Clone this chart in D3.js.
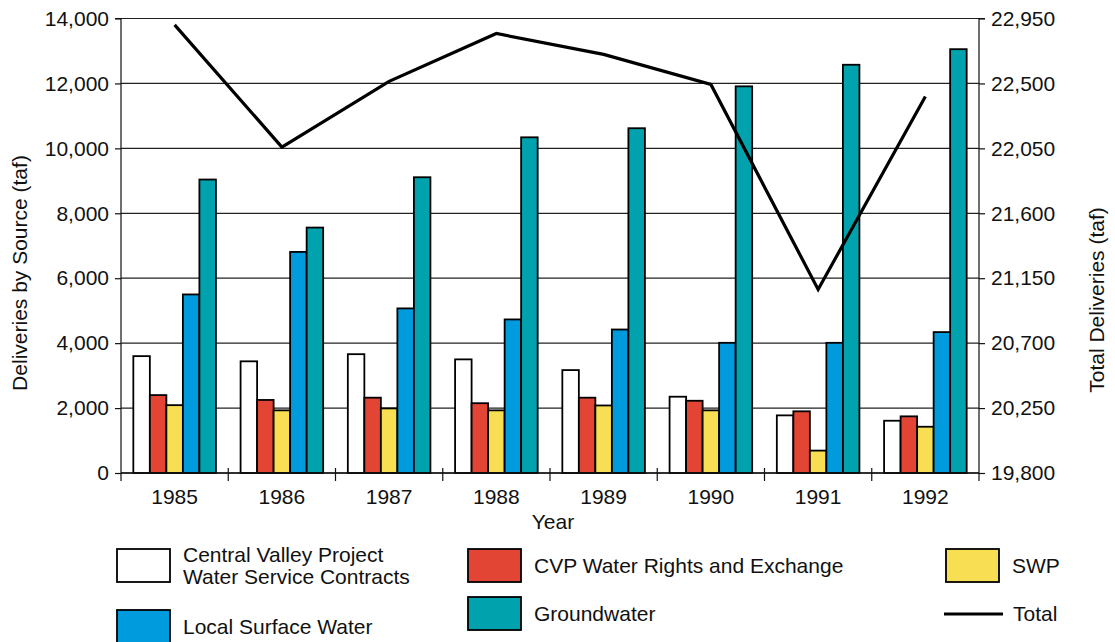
<!DOCTYPE html>
<html>
<head>
<meta charset="utf-8">
<script src="https://cdn.jsdelivr.net/npm/d3@7"></script>
<style>
  body { margin: 0; background: #fff; }
  svg { display: block; font-family: "Liberation Sans", Arial, sans-serif; }
  .tick-label { font-size: 21px; fill: #111; }
  .axis-title { font-size: 21px; fill: #111; }
  .legend-label { font-size: 21px; fill: #111; }
</style>
</head>
<body>
<svg id="chart" width="1115" height="642"></svg>
<script>
const years = ["1985", "1986", "1987", "1988", "1989", "1990", "1991", "1992"];
const seriesNames = ["Central Valley Project Water Service Contracts", "CVP Water Rights and Exchange", "SWP", "Local Surface Water", "Groundwater"];
const cvpContracts = [3600, 3440, 3660, 3500, 3170, 2350, 1775, 1610];
const cvpRights = [2400, 2250, 2320, 2150, 2320, 2225, 1900, 1745];
const swp = [2090, 1930, 1990, 1930, 2080, 1930, 690, 1425];
const localSurface = [5500, 6810, 5070, 4730, 4420, 4010, 4010, 4340];
const groundwater = [9040, 7560, 9110, 10340, 10620, 11910, 12575, 13055];
const totalDeliveries = [22906, 22059, 22514, 22846, 22701, 22493, 21072, 22410];
const leftTicks = [0, 2000, 4000, 6000, 8000, 10000, 12000, 14000];
const rightTicks = [19800, 20250, 20700, 21150, 21600, 22050, 22500, 22950];
const colors = ["#ffffff", "#e24534", "#f7de52", "#009bdd", "#00a3ad"];

const seriesValues = [cvpContracts, cvpRights, swp, localSurface, groundwater];

const svg = d3.select("#chart");
const plot = { left: 121, right: 979, top: 18.5, bottom: 473 };

const x0 = d3.scaleBand().domain(years).range([plot.left, plot.right]).padding(0);
const x1 = d3.scaleBand()
  .domain(d3.range(seriesNames.length))
  .range([x0.bandwidth() * 0.115, x0.bandwidth() * 0.885]);
const yL = d3.scaleLinear().domain([0, 14000]).range([plot.bottom, plot.top]);
const yR = d3.scaleLinear().domain([19800, 22950]).range([plot.bottom, plot.top]);

// gridlines
svg.append("g")
  .selectAll("line")
  .data(leftTicks)
  .join("line")
  .attr("x1", plot.left)
  .attr("x2", plot.right)
  .attr("y1", (d) => yL(d))
  .attr("y2", (d) => yL(d))
  .attr("stroke", "#222")
  .attr("stroke-width", 1.2);

// bars
svg.append("g")
  .selectAll("g")
  .data(years)
  .join("g")
  .attr("transform", (d) => `translate(${x0(d)},0)`)
  .selectAll("rect")
  .data((d, i) => seriesValues.map((vals, s) => ({ s, v: vals[i] })))
  .join("rect")
  .attr("x", (d) => x1(d.s))
  .attr("width", x1.bandwidth())
  .attr("y", (d) => yL(d.v))
  .attr("height", (d) => yL(0) - yL(d.v))
  .attr("fill", (d) => colors[d.s])
  .attr("stroke", "#000")
  .attr("stroke-width", 1.8);

// left axis
const axisL = svg.append("g")
  .attr("transform", `translate(${plot.left},0)`)
  .call(d3.axisLeft(yL).tickValues(leftTicks).tickFormat(d3.format(",")).tickSize(6).tickPadding(6));
axisL.select(".domain").attr("stroke", "#111").attr("stroke-width", 1.2).attr("d", `M-6,${plot.top}H0V${plot.bottom + 8}`);
axisL.selectAll(".tick line").attr("stroke", "#111").attr("stroke-width", 1.2);
axisL.selectAll(".tick text").attr("class", "tick-label").attr("font-size", null).attr("font-family", null);

// right axis
const axisR = svg.append("g")
  .attr("transform", `translate(${plot.right},0)`)
  .call(d3.axisRight(yR).tickValues(rightTicks).tickFormat(d3.format(",")).tickSize(6).tickPadding(6));
axisR.select(".domain").attr("stroke", "#111").attr("stroke-width", 1.2).attr("d", `M6,${plot.top}H0V${plot.bottom + 8}`);
axisR.selectAll(".tick line").attr("stroke", "#111").attr("stroke-width", 1.2);
axisR.selectAll(".tick text").attr("class", "tick-label").attr("font-size", null).attr("font-family", null);

// bottom axis
const axisB = svg.append("g");
axisB.append("line")
  .attr("x1", plot.left)
  .attr("x2", plot.right)
  .attr("y1", plot.bottom)
  .attr("y2", plot.bottom)
  .attr("stroke", "#111")
  .attr("stroke-width", 1.5);
axisB.selectAll(".sep")
  .data(years.slice(1))
  .join("line")
  .attr("x1", (d) => x0(d))
  .attr("x2", (d) => x0(d))
  .attr("y1", plot.bottom - 5)
  .attr("y2", plot.bottom + 8)
  .attr("stroke", "#111")
  .attr("stroke-width", 1.2);
axisB.selectAll("text")
  .data(years)
  .join("text")
  .attr("class", "tick-label")
  .attr("x", (d) => x0(d) + x0.bandwidth() / 2)
  .attr("y", 497)
  .attr("dy", "0.35em")
  .attr("text-anchor", "middle")
  .text((d) => d);

// total line
const line = d3.line()
  .x((d, i) => x0(years[i]) + x0.bandwidth() / 2)
  .y((d) => yR(d));
svg.append("path")
  .datum(totalDeliveries)
  .attr("d", line)
  .attr("fill", "none")
  .attr("stroke", "#000")
  .attr("stroke-width", 3.2);

// axis titles
svg.append("text")
  .attr("class", "axis-title")
  .attr("x", 553)
  .attr("y", 522)
  .attr("dy", "0.35em")
  .attr("text-anchor", "middle")
  .text("Year");
svg.append("text")
  .attr("class", "axis-title")
  .attr("transform", "translate(20,273) rotate(-90)")
  .attr("dy", "0.35em")
  .attr("text-anchor", "middle")
  .text("Deliveries by Source (taf)");
svg.append("text")
  .attr("class", "axis-title")
  .attr("transform", "translate(1097,300) rotate(-90)")
  .attr("dy", "0.35em")
  .attr("text-anchor", "middle")
  .text("Total Deliveries (taf)");

// legend
const legendItems = [
  { s: 0, x: 117, y: 549, lines: ["Central Valley Project", "Water Service Contracts"] },
  { s: 1, x: 468, y: 549, lines: ["CVP Water Rights and Exchange"] },
  { s: 2, x: 946, y: 549, lines: ["SWP"] },
  { s: 3, x: 117, y: 610, lines: ["Local Surface Water"] },
  { s: 4, x: 468, y: 597, lines: ["Groundwater"] }
];
const legend = svg.append("g");
legendItems.forEach((item) => {
  const g = legend.append("g").attr("transform", `translate(${item.x},${item.y})`);
  g.append("rect")
    .attr("width", 53)
    .attr("height", 33)
    .attr("fill", colors[item.s])
    .attr("stroke", "#000")
    .attr("stroke-width", 1.8);
  const lh = 22;
  const y0 = 16.5 - ((item.lines.length - 1) * lh) / 2;
  item.lines.forEach((t, k) => {
    g.append("text")
      .attr("class", "legend-label")
      .attr("x", 66)
      .attr("y", y0 + k * lh)
      .attr("dy", "0.35em")
      .text(t);
  });
});
legend.append("line")
  .attr("x1", 944)
  .attr("x2", 1003)
  .attr("y1", 614)
  .attr("y2", 614)
  .attr("stroke", "#000")
  .attr("stroke-width", 3.2);
legend.append("text")
  .attr("class", "legend-label")
  .attr("x", 1013)
  .attr("y", 614)
  .attr("dy", "0.35em")
  .text("Total");
</script>
</body>
</html>
